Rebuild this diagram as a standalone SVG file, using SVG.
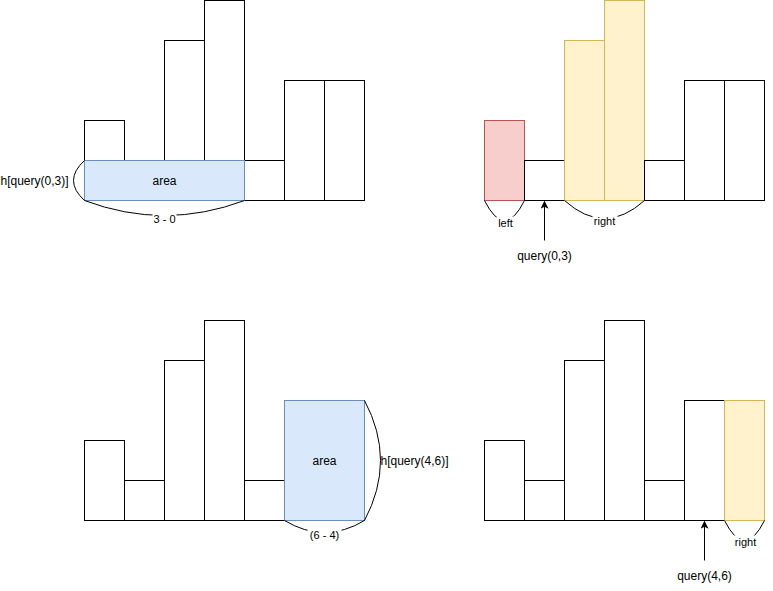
<svg xmlns="http://www.w3.org/2000/svg" width="773" height="591" viewBox="0 0 773 591">
<defs>
<style>
.bar{fill:#ffffff;stroke:#000000;stroke-width:1}
.blue{fill:#dae8fc;stroke:#6c8ebf;stroke-width:1}
.red{fill:#f8cecc;stroke:#b85450;stroke-width:1}
.yel{fill:#fff2cc;stroke:#d6b656;stroke-width:1}
.edge{fill:none;stroke:#000000;stroke-width:1}
text{font-family:"Liberation Sans",Arial,sans-serif;fill:#000000}
.t12{font-size:12px}
.t11{font-size:11px}
.lbg{fill:#ffffff;stroke:none}
</style>
<marker id="arr" viewBox="0 0 10 10" refX="9" refY="5" markerWidth="8" markerHeight="8" orient="auto" markerUnits="userSpaceOnUse">
<path d="M0,0 L10,5 L0,10 L2.5,5 Z" fill="#000000"/>
</marker>
</defs>
<rect width="773" height="591" fill="#ffffff"/>
<g transform="translate(0.5,0.5)">
<g id="panel-top-left">
<rect class="bar" x="84" y="120" width="40" height="80"/>
<rect class="bar" x="124" y="160" width="40" height="40"/>
<rect class="bar" x="164" y="40" width="40" height="160"/>
<rect class="bar" x="204" y="0" width="40" height="200"/>
<rect class="bar" x="244" y="160" width="40" height="40"/>
<rect class="bar" x="284" y="80" width="40" height="120"/>
<rect class="bar" x="324" y="80" width="40" height="120"/>
<g id="area-top"><rect class="blue" x="84" y="160" width="160" height="40"/><text class="t12" x="164" y="184" text-anchor="middle">area</text></g>
</g>

<g id="panel-top-right">
<rect class="red" x="484" y="120" width="40" height="80"/>
<rect class="bar" x="524" y="160" width="40" height="40"/>
<rect class="yel" x="564" y="40" width="40" height="160"/>
<rect class="yel" x="604" y="0" width="40" height="200"/>
<rect class="bar" x="644" y="160" width="40" height="40"/>
<rect class="bar" x="684" y="80" width="40" height="120"/>
<rect class="bar" x="724" y="80" width="40" height="120"/>
</g>

<g id="panel-bottom-left">
<rect class="bar" x="84" y="440" width="40" height="80"/>
<rect class="bar" x="124" y="480" width="40" height="40"/>
<rect class="bar" x="164" y="360" width="40" height="160"/>
<rect class="bar" x="204" y="320" width="40" height="200"/>
<rect class="bar" x="244" y="480" width="40" height="40"/>
<g id="area-bottom"><rect class="blue" x="284" y="400" width="80" height="120"/><text class="t12" x="324" y="464" text-anchor="middle">area</text></g>
</g>

<g id="panel-bottom-right">
<rect class="bar" x="484" y="440" width="40" height="80"/>
<rect class="bar" x="524" y="480" width="40" height="40"/>
<rect class="bar" x="564" y="360" width="40" height="160"/>
<rect class="bar" x="604" y="320" width="40" height="200"/>
<rect class="bar" x="644" y="480" width="40" height="40"/>
<rect class="bar" x="684" y="400" width="40" height="120"/>
<rect class="yel" x="724" y="400" width="40" height="120"/>
</g>

<g id="connectors">
<path class="edge" d="M84,160 Q62,180 84,200"/>
<path class="edge" d="M84,200 Q164,230 244,200"/>
<path class="edge" d="M484,200 Q504,240 524,200"/>
<path class="edge" d="M564,200 Q604,236 644,200"/>
<path class="edge" d="M544,240 L544,201" marker-end="url(#arr)"/>
<path class="edge" d="M364,400 Q396,460 364,520"/>
<path class="edge" d="M284,520 Q324,544 364,520"/>
<path class="edge" d="M704,560 L704,521" marker-end="url(#arr)"/>
<path class="edge" d="M724,520 Q744,560 764,520"/>
</g>

<g id="labels">
<text class="t12" x="68" y="184" text-anchor="end">h[query(0,3)]</text>
<rect class="lbg" x="152" y="212" width="24" height="12"/>
<text class="t11" x="164" y="222" text-anchor="middle">3 - 0</text>
<rect class="lbg" x="496" y="216" width="18" height="12"/>
<text class="t11" x="505" y="226" text-anchor="middle">left</text>
<rect class="lbg" x="592" y="213" width="25" height="12"/>
<text class="t11" x="604" y="224" text-anchor="middle">right</text>
<text class="t12" x="544" y="259" text-anchor="middle">query(0,3)</text>
<text class="t12" x="380" y="464" text-anchor="start">h[query(4,6)]</text>
<rect class="lbg" x="307" y="528" width="34" height="12"/>
<text class="t11" x="324" y="538" text-anchor="middle">(6 - 4)</text>
<rect class="lbg" x="733" y="535" width="25" height="12"/>
<text class="t11" x="745" y="545" text-anchor="middle">right</text>
<text class="t12" x="704" y="579" text-anchor="middle">query(4,6)</text>
</g>
</g>
</svg>
